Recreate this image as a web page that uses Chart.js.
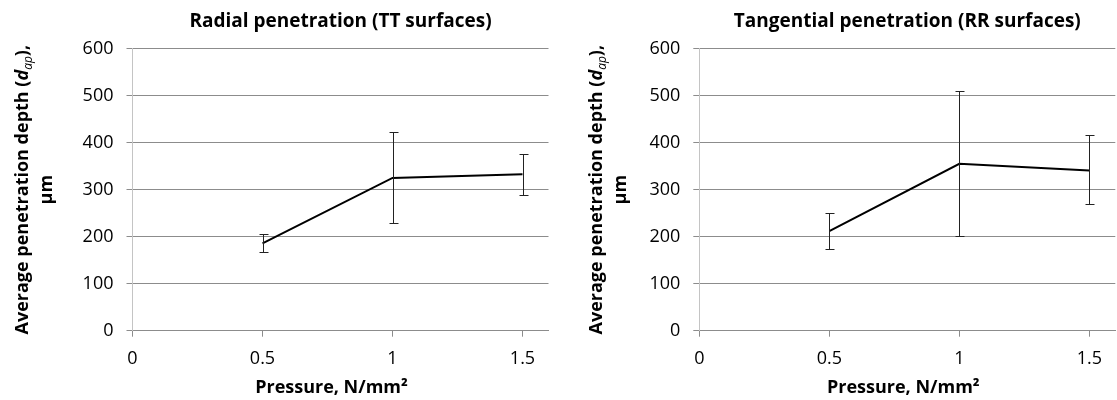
<!DOCTYPE html>
<html>
<head>
<meta charset="utf-8">
<script src="https://cdn.jsdelivr.net/npm/chart.js@4.4.1/dist/chart.umd.min.js"></script>
<style>
  html, body { margin: 0; padding: 0; background: #fff; overflow: hidden; }
  .wrap { position: absolute; top: 0; height: 400px; }
  #w1 { left: 0; width: 558px; }
  #w2 { left: 558px; width: 559px; }
</style>
</head>
<body>
<div class="wrap" id="w1"><canvas id="c1"></canvas></div>
<div class="wrap" id="w2"><canvas id="c2"></canvas></div>
<script>
const pressure = [0.5, 1, 1.5];
const yTicks = [0, 100, 200, 300, 400, 500, 600];

const radialMean = [186, 325, 333];
const radialHi = [205, 423, 375];
const radialLo = [168, 230, 289];

const tangMean = [212, 355, 341];
const tangHi = [251, 509, 416];
const tangLo = [174, 202, 270];

const FONT = "'Open Sans', sans-serif";

// error bars + titles drawn on top of the chart
const extras = {
  id: 'extras',
  afterDatasetsDraw(chart, args, o) {
    const { ctx, scales: { x, y } } = chart;
    ctx.save();
    ctx.strokeStyle = '#222';
    ctx.lineWidth = 1;
    o.hi.forEach((hi, i) => {
      const px = Math.round(x.getPixelForValue(pressure[i])) + 0.5;
      const top = Math.round(y.getPixelForValue(hi)) + 0.5;
      const bot = Math.round(y.getPixelForValue(o.lo[i])) + 0.5;
      ctx.beginPath();
      ctx.moveTo(px, top); ctx.lineTo(px, bot);
      ctx.moveTo(px - 4, top); ctx.lineTo(px + 5, top);
      ctx.moveTo(px - 4, bot); ctx.lineTo(px + 5, bot);
      ctx.stroke();
    });
    ctx.restore();
  },
  afterDraw(chart, args, o) {
    const { ctx, chartArea } = chart;
    const mid = (chartArea.left + chartArea.right) / 2;
    ctx.save();
    ctx.fillStyle = '#000';
    ctx.textAlign = 'center';
    ctx.textBaseline = 'middle';
    ctx.font = `bold 19px ${FONT}`;
    ctx.fillText(o.title, mid, 22);
    ctx.font = `bold 18px ${FONT}`;
    ctx.fillText('Pressure, N/mm²', mid + o.xTitleShift, 388);

    // rotated y title with italic subscript
    const cy = (chartArea.top + chartArea.bottom) / 2;
    const segs = [
      { t: 'Average penetration depth (', f: `bold 18px ${FONT}`, dy: 0 },
      { t: 'd', f: `italic bold 18px ${FONT}`, dy: 0 },
      { t: 'ap', f: `italic 12px ${FONT}`, dy: 4 },
      { t: '),', f: `bold 18px ${FONT}`, dy: 0 }
    ];
    let total = 0;
    segs.forEach(s => { ctx.font = s.f; s.w = ctx.measureText(s.t).width; total += s.w; });
    ctx.translate(o.yTitleX, cy);
    ctx.rotate(-Math.PI / 2);
    ctx.textAlign = 'left';
    ctx.textBaseline = 'alphabetic';
    let cx = -total / 2;
    segs.forEach(s => { ctx.font = s.f; ctx.fillText(s.t, cx, s.dy); cx += s.w; });
    ctx.textAlign = 'center';
    ctx.font = `bold 18px ${FONT}`;
    ctx.fillText('µm', 0, o.lineGap);
    ctx.restore();
  }
};

function makeChart(id, mean, hi, lo, cfg) {
  new Chart(document.getElementById(id), {
    type: 'line',
    data: {
      datasets: [{
        data: pressure.map((p, i) => ({ x: p, y: mean[i] })),
        borderColor: '#000', borderWidth: 2, pointRadius: 0, tension: 0, fill: false
      }]
    },
    options: {
      responsive: true, maintainAspectRatio: false, animation: false,
      layout: { padding: { top: 48.7, right: cfg.padRight, left: 0, bottom: 0 } },
      plugins: {
        legend: { display: false }, tooltip: { enabled: false },
        extras: { hi, lo, title: cfg.title, yTitleX: cfg.yTitleX, lineGap: cfg.lineGap, xTitleShift: cfg.xTitleShift }
      },
      scales: {
        x: {
          type: 'linear', min: 0, max: 1.6,
          afterFit: s => { s.height = 69.3; },
          afterBuildTicks: s => { s.ticks = s.ticks.filter(t => Math.abs(t.value * 2 - Math.round(t.value * 2)) < 1e-6); },
          ticks: { stepSize: 0.5, includeBounds: false, color: '#000', padding: 11,
                   font: { family: FONT, size: 18 }, callback: v => String(v) },
          grid: { drawOnChartArea: false, drawTicks: true, tickLength: 6, tickColor: '#8c8c8c' },
          border: { color: '#8c8c8c' }
        },
        y: {
          min: 0, max: 600,
          afterFit: s => { s.width = cfg.yWidth; },
          afterBuildTicks: s => { s.ticks = yTicks.map(v => ({ value: v })); },
          ticks: { color: '#000', padding: 13, font: { family: FONT, size: 18 } },
          grid: { color: '#8c8c8c', tickLength: 6, tickColor: '#8c8c8c' },
          border: { color: '#c4c4c4' }
        }
      }
    },
    plugins: [extras]
  });
}

makeChart('c1', radialMean, radialHi, radialLo, {
  title: 'Radial penetration (TT surfaces)', xTitleShift: -9,
  yTitleX: 28, lineGap: 24, padRight: 9.5, yWidth: 132.5
});
makeChart('c2', tangMean, tangHi, tangLo, {
  title: 'Tangential penetration (RR surfaces)', xTitleShift: -4,
  yTitleX: 44, lineGap: 24, padRight: 1.7, yWidth: 141.3
});
</script>
</body>
</html>
